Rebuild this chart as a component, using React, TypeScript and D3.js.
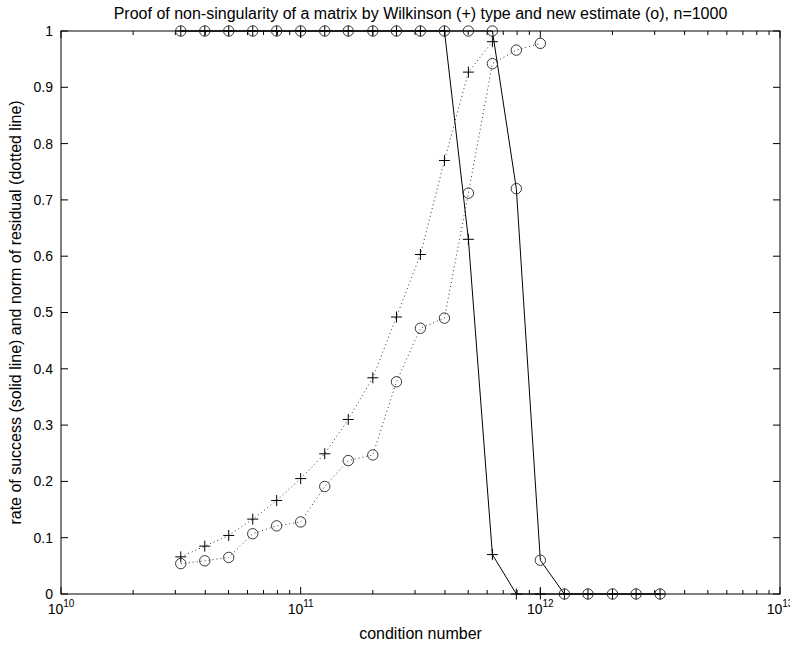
import React from "react";
import * as d3 from "d3";

// condition numbers (log spaced)
const condNumbers = [
  3.16e10, 3.98e10, 5.01e10, 6.31e10, 7.94e10, 1e11, 1.26e11, 1.58e11, 2e11, 2.51e11,
  3.16e11, 3.98e11, 5.01e11, 6.31e11, 7.94e11, 1e12, 1.26e12, 1.58e12, 2e12, 2.51e12, 3.16e12,
];

// rate of success (solid lines)
const successWilkinson = [1, 1, 1, 1, 1, 1, 1, 1, 1, 1, 1, 1, 0.63, 0.07, 0, 0, 0, 0, 0, 0, 0];
const successNew = [1, 1, 1, 1, 1, 1, 1, 1, 1, 1, 1, 1, 1, 1, 0.72, 0.06, 0, 0, 0, 0, 0];

// norm of residual (dotted lines)
const residualWilkinson = [0.066, 0.085, 0.104, 0.133, 0.166, 0.205, 0.249, 0.31, 0.384, 0.492, 0.603, 0.77, 0.927, 0.981];
const residualNew = [0.054, 0.059, 0.065, 0.107, 0.121, 0.128, 0.191, 0.237, 0.247, 0.377, 0.472, 0.49, 0.712, 0.942, 0.966, 0.978];

const yTicks = [0, 0.1, 0.2, 0.3, 0.4, 0.5, 0.6, 0.7, 0.8, 0.9, 1];
const xDecades = [10, 11, 12, 13];

const width = 790;
const height = 646;
const margin = { top: 31, right: 10, bottom: 52, left: 61 };
const font = "'Liberation Sans', Arial, Helvetica, sans-serif";

const App = () => {
  const x = d3.scaleLog().domain([1e10, 1e13]).range([margin.left, width - margin.right]);
  const y = d3.scaleLinear().domain([0, 1]).range([height - margin.bottom, margin.top]);
  const x0 = x.range()[0], x1 = x.range()[1];
  const y0 = y.range()[0], y1 = y.range()[1];

  const line = d3.line<[number, number]>().x(d => x(d[0])).y(d => y(d[1]));
  const pts = (vals: number[]) => vals.map((v, i) => [condNumbers[i], v] as [number, number]);

  // minor ticks 2..9 in each decade
  const minorTicks: number[] = [];
  xDecades.slice(0, -1).forEach(e => {
    for (let m = 2; m <= 9; m++) minorTicks.push(m * Math.pow(10, e));
  });

  const plus = (d: [number, number], i: number) => (
    <path key={i} d={`M${x(d[0]) - 5.5},${y(d[1])}h11M${x(d[0])},${y(d[1]) - 5.5}v11`} stroke="#000" strokeWidth={1} fill="none" />
  );
  const circle = (d: [number, number], i: number) => (
    <circle key={i} cx={x(d[0])} cy={y(d[1])} r={5.2} stroke="#222" strokeWidth={0.9} fill="none" />
  );

  return (
    <svg width={width} height={height} style={{ position: "absolute", left: 0, top: 0, background: "#fff" }} fontFamily={font}>
      <rect x={0} y={0} width={width} height={height} fill="#fff" />

      {/* box */}
      <rect x={x0} y={y1} width={x1 - x0} height={y0 - y1} fill="none" stroke="#000" strokeWidth={1} />

      {/* x ticks */}
      {xDecades.map(e => {
        const xv = x(Math.pow(10, e));
        return (
          <g key={e}>
            <line x1={xv} x2={xv} y1={y0} y2={y0 - 7} stroke="#000" />
            <line x1={xv} x2={xv} y1={y1} y2={y1 + 7} stroke="#000" />
            <text x={xv} y={614} textAnchor="middle" fontSize={14}>
              <tspan>10</tspan>
              <tspan dy={-7} fontSize={10}>{e}</tspan>
            </text>
          </g>
        );
      })}
      {minorTicks.map((t, i) => (
        <g key={i}>
          <line x1={x(t)} x2={x(t)} y1={y0} y2={y0 - 4} stroke="#000" />
          <line x1={x(t)} x2={x(t)} y1={y1} y2={y1 + 4} stroke="#000" />
        </g>
      ))}

      {/* y ticks */}
      {yTicks.map(t => (
        <g key={t}>
          <line x1={x0} x2={x0 + 7} y1={y(t)} y2={y(t)} stroke="#000" />
          <line x1={x1} x2={x1 - 7} y1={y(t)} y2={y(t)} stroke="#000" />
          <text x={x0 - 8} y={y(t)} dy="0.35em" textAnchor="end" fontSize={14}>{String(t)}</text>
        </g>
      ))}

      {/* series */}
      <path d={line(pts(successWilkinson)) || ""} fill="none" stroke="#000" strokeWidth={1} />
      <path d={line(pts(successNew)) || ""} fill="none" stroke="#000" strokeWidth={1} />
      <path d={line(pts(residualWilkinson)) || ""} fill="none" stroke="#333" strokeWidth={1} strokeDasharray="1,3" />
      <path d={line(pts(residualNew)) || ""} fill="none" stroke="#333" strokeWidth={1} strokeDasharray="1,3" />
      {pts(successWilkinson).map(plus)}
      {pts(residualWilkinson).map(plus)}
      {pts(successNew).map(circle)}
      {pts(residualNew).map(circle)}

      {/* labels */}
      <text x={(x0 + x1) / 2} y={19} textAnchor="middle" fontSize={16}>
        Proof of non-singularity of a matrix by Wilkinson (+) type and new estimate (o), n=1000
      </text>
      <text x={(x0 + x1) / 2} y={639} textAnchor="middle" fontSize={16}>condition number</text>
      <text transform={`translate(21,${(y0 + y1) / 2}) rotate(-90)`} textAnchor="middle" fontSize={16}>
        rate of success (solid line) and norm of residual (dotted line)
      </text>
    </svg>
  );
};

export default App;
